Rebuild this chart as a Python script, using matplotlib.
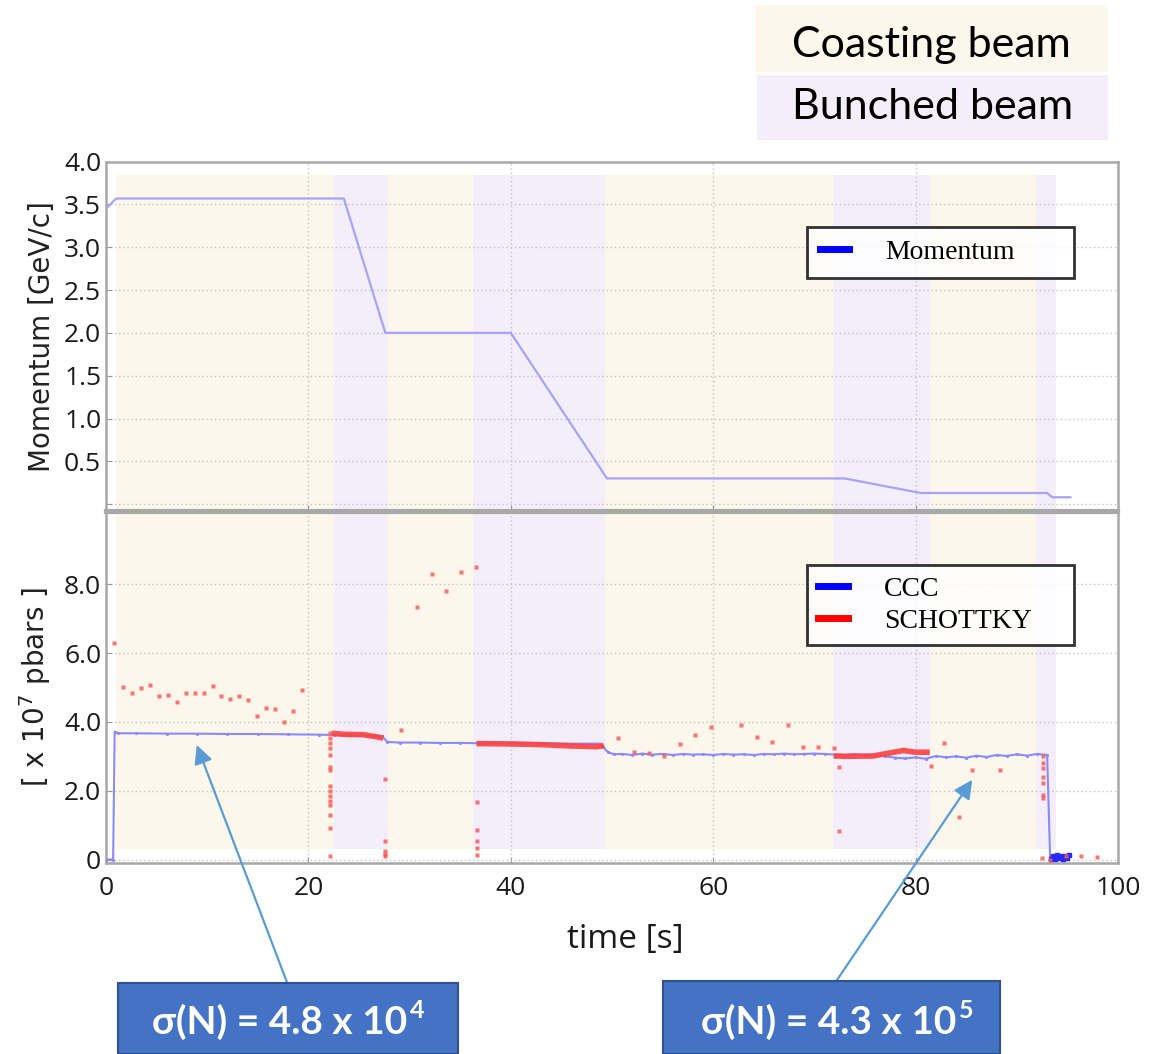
import matplotlib.pyplot as plt
from matplotlib.patches import Rectangle
from matplotlib.lines import Line2D
from matplotlib.text import Annotation

# beam phases (start, end in s)
phase_start = [1.0, 22.5, 27.9, 36.3, 49.3, 71.8, 81.4, 91.9]
phase_end = [22.5, 27.9, 36.3, 49.3, 71.8, 81.4, 91.9, 93.9]
phase_kind = ['coasting', 'bunched', 'coasting', 'bunched',
              'coasting', 'bunched', 'coasting', 'bunched']

# momentum ramp
mom_t = [0, 1.0, 23.5, 27.6, 40.0, 49.5, 73.0, 80.5, 93.0, 93.5, 95.3]
mom_p = [3.45, 3.57, 3.57, 2.0, 2.0, 0.3, 0.3, 0.13, 0.13, 0.08, 0.08]

# CCC intensity [x 1e7 pbars]
ccc_t = [0, 0.7, 0.85, 1.2, 3, 6, 9, 12, 15, 18, 21, 22.5, 24, 26, 27.3, 27.8,
         29, 31, 33, 35, 37, 40, 43, 46, 48.8, 49.6, 50.2,
         51, 52, 53, 54, 55, 56, 57, 58, 59, 60, 61, 62, 63, 64, 65, 66, 67,
         68, 69, 70, 71, 72, 73, 74, 75, 76, 77, 78, 79, 80, 81, 82, 83, 84,
         85, 86, 87, 88, 89, 90, 91, 92, 93, 93.3]
ccc_n = [0, 0, 3.72, 3.67, 3.67, 3.66, 3.66, 3.65, 3.65, 3.64, 3.63, 3.62, 3.61, 3.60, 3.58, 3.42,
         3.40, 3.40, 3.39, 3.39, 3.38, 3.38, 3.38, 3.37, 3.37, 3.12, 3.06,
         3.07, 3.04, 3.08, 3.05, 3.07, 3.04, 3.07, 3.05, 3.06, 3.04, 3.07, 3.05, 3.06, 3.04, 3.07, 3.06, 3.08,
         3.06, 3.07, 3.08, 3.07, 3.05, 3.04, 3.06, 3.03, 3.05, 3.00, 2.96, 2.94, 2.97, 2.93, 3.01, 2.97, 3.00,
         2.96, 3.02, 2.98, 3.04, 3.01, 3.06, 3.02, 3.07, 3.04, 0.0]
ccc_tail_t = [93.4, 93.6, 93.8, 94.0, 94.2, 94.4, 94.6, 94.8, 95.0, 95.2]
ccc_tail_n = [0.02, 0.10, 0.03, 0.12, 0.05, 0.09, 0.02, 0.11, 0.06, 0.13]

# Schottky: single estimates
sch_t = [0.82, 1.71, 2.6, 3.43, 4.38, 5.27, 6.09, 6.98, 7.87, 8.76, 9.65, 10.54, 11.4, 12.25,
         13.14, 14.03, 14.89, 15.78, 16.7, 17.56, 18.45, 19.34,
         22.1, 22.1, 22.1, 22.1, 22.1, 22.1, 22.1, 22.1, 22.1, 22.1, 22.1, 22.1, 22.1, 22.1, 22.1,
         27.57, 29.18, 27.6, 27.6, 27.6, 27.6, 30.7, 32.18, 33.6, 35.08, 36.53,
         36.7, 36.7, 36.7, 36.7, 36.7,
         50.56, 52.17, 53.62, 55.1, 56.7, 58.23, 59.75, 62.75, 64.33, 65.84, 67.36, 68.84, 70.38,
         71.94, 72.46, 72.43, 81.49, 82.8, 85.6, 84.3, 88.34,
         92.6, 92.6, 92.6, 92.6, 92.6, 92.6, 92.6, 92.45, 93.3, 94.9, 96.3, 97.9]
sch_n = [6.3, 5.02, 4.85, 4.98, 5.07, 4.75, 4.78, 4.59, 4.83, 4.83, 4.85, 5.04, 4.75, 4.66,
         4.74, 4.64, 4.17, 4.40, 4.37, 4.00, 4.33, 4.93,
         3.67, 3.53, 3.38, 3.24, 3.04, 2.70, 2.61, 2.13, 1.98, 1.84, 1.69, 1.59, 1.30, 0.92, 0.10,
         2.34, 3.77, 0.53, 0.24, 0.17, 0.10, 7.34, 8.31, 7.81, 8.36, 8.50,
         1.67, 0.87, 0.53, 0.34, 0.14,
         3.54, 3.12, 3.09, 3.00, 3.35, 3.62, 3.86, 3.91, 3.57, 3.41, 3.91, 3.28, 3.28,
         3.24, 2.68, 0.82, 2.73, 3.38, 2.61, 1.24, 2.59,
         3.00, 2.80, 2.66, 2.41, 2.22, 1.88, 1.79, 0.05, 0.0, 0.10, 0.10, 0.08]

# Schottky: dense tracks during bunched phases
band1_t = [22.3, 23.5, 25.4, 26.5, 27.4]
band1_n = [3.67, 3.64, 3.63, 3.58, 3.53]
band2_t = [36.6, 40.0, 43.0, 46.0, 48.5, 49.0, 49.2]
band2_n = [3.37, 3.36, 3.34, 3.30, 3.28, 3.30, 3.33]
band3_t = [71.9, 73.0, 75.8, 77.1, 78.8, 80.0, 81.4]
band3_n = [3.01, 3.00, 3.01, 3.08, 3.17, 3.12, 3.12]

# intensity resolution quoted in the call-outs
sigma_mant = ['4.8', '4.3']
sigma_exp = ['4', '5']

shade = {'coasting': '#fdf6ea', 'bunched': '#f3eefa'}
tick_font = ['Open Sans', 'DejaVu Sans']
box_font = ['Lato', 'DejaVu Sans']

fig = plt.figure(figsize=(11.49, 10.54), dpi=100)
ax1 = fig.add_axes([0.0923, 0.5152, 0.8807, 0.3314])
ax2 = fig.add_axes([0.0923, 0.1812, 0.8807, 0.3330])

for ax in (ax1, ax2):
    ax.set_xlim(0, 100)
    ax.set_xticks([0, 20, 40, 60, 80, 100])
    ax.grid(True, color='#c4c4c4', linestyle=(0, (1, 2)), linewidth=1)
    ax.set_axisbelow(True)
    for sp in ax.spines.values():
        sp.set_color('#a8a8a8')
        sp.set_linewidth(1.8)
    ax.tick_params(direction='in', length=4, color='#999999',
                   labelsize=19, labelcolor='#1a1a1a')

ax1.spines['bottom'].set_linewidth(3)
ax2.spines['top'].set_linewidth(3)

# phase shading
for s, e, k in zip(phase_start, phase_end, phase_kind):
    ax1.fill_between([s, e], -0.08, 3.85, color=shade[k], lw=0, zorder=0.5)
    ax2.fill_between([s, e], 0.3, 10.1, color=shade[k], lw=0, zorder=0.5)

# top panel: momentum
ax1.plot(mom_t, mom_p, color='#a4a4ff', lw=1.6, zorder=3)
ax1.set_ylim(-0.08, 4.0)
ax1.set_yticks([0, 0.5, 1.0, 1.5, 2.0, 2.5, 3.0, 3.5, 4.0])
ax1.set_yticklabels(['', '0.5', '1.0', '1.5', '2.0', '2.5', '3.0', '3.5', '4.0'])
ax1.tick_params(axis='x', labelbottom=False)
ax1.set_ylabel('Momentum [GeV/c]', fontsize=20, color='#222222', labelpad=6)

leg1 = ax1.legend(handles=[Line2D([], [], color='#0000ff', lw=5)], labels=['Momentum'],
                  loc='center', bbox_to_anchor=(0.693, 0.653, 0.264, 0.175), mode='expand',
                  prop={'family': 'Liberation Serif', 'size': 20}, frameon=True, fancybox=False,
                  handlelength=1.05, handletextpad=1.3, borderpad=0.45, borderaxespad=0)
leg1.get_frame().set_edgecolor('black')
leg1.get_frame().set_linewidth(2)

# bottom panel: intensity
ax2.plot(ccc_t, ccc_n, color='#8a8aff', lw=1.5, marker='.', ms=2.5, zorder=3)
ax2.plot(ccc_tail_t, ccc_tail_n, color='#2828ff', lw=2.5, marker='s', ms=3, zorder=3)
for bt, bn in ((band1_t, band1_n), (band2_t, band2_n), (band3_t, band3_n)):
    ax2.plot(bt, bn, color='#ff4040', lw=4, alpha=0.9, solid_capstyle='butt', zorder=4)
ax2.plot(sch_t, sch_n, ls='none', marker='s', ms=3.5, color='#ff5a5a', alpha=0.85,
         mec='none', zorder=4)

ax2.set_ylim(-0.1, 10.1)
ax2.set_yticks([0, 2, 4, 6, 8])
ax2.set_yticklabels(['0', '2.0', '4.0', '6.0', '8.0'])
ax2.set_xticklabels(['0', '20', '40', '60', '80', '100'])
ax2.tick_params(axis='x', pad=9)
ax2.set_ylabel('[ x 10$^7$ pbars ]', fontsize=20, color='#222222', labelpad=8)
ax2.set_xlabel('time [s]', fontsize=24, color='#1a1a1a', family=tick_font)
ax2.xaxis.label.set_verticalalignment('center')
ax2.xaxis.set_label_coords(0.513, -0.2165)

for ax in (ax1, ax2):
    for lab in ax.get_xticklabels() + ax.get_yticklabels():
        lab.set_family(tick_font)

leg2 = ax2.legend(handles=[Line2D([], [], color='#0000ff', lw=5),
                           Line2D([], [], color='#ff0000', lw=5)],
                  labels=['CCC', 'SCHOTTKY'],
                  loc='center', bbox_to_anchor=(0.693, 0.607, 0.264, 0.256), mode='expand',
                  prop={'family': 'Liberation Serif', 'size': 20}, frameon=True, fancybox=False,
                  handlelength=1.05, handletextpad=1.3, borderpad=0.4, labelspacing=0.25,
                  borderaxespad=0)
leg2.get_frame().set_edgecolor('black')
leg2.get_frame().set_linewidth(2)

# phase key in the top right corner
W, H = 1149, 1054
fig.add_artist(Rectangle((755 / W, 1 - 72 / H), 353 / W, 67 / H,
                         transform=fig.transFigure, color=shade['coasting'], lw=0))
fig.add_artist(Rectangle((757 / W, 1 - 140 / H), 351 / W, 65 / H,
                         transform=fig.transFigure, color=shade['bunched'], lw=0))
fig.text(931 / W, 1 - 45 / H, 'Coasting beam', ha='center', va='center',
         fontsize=31, family=box_font, color='black')
fig.text(933 / W, 1 - 107 / H, 'Bunched beam', ha='center', va='center',
         fontsize=31, family=box_font, color='black')

# resolution call-outs: box, text with raised exponent, arrow
box_geom = [(118, 985, 340), (663, 983, 337)]
arrow_tip = [(8.96, 3.33), (85.6, 2.32)]
arrow_tail = [(288, 985), (835, 983)]
text_cx = [280, 829]
for (x0, y0, w), tip, tail, cx, m, ex in zip(box_geom, arrow_tip, arrow_tail,
                                             text_cx, sigma_mant, sigma_exp):
    fig.add_artist(Rectangle((x0 / W, 0), w / W, (H - y0) / H + 0.002,
                             transform=fig.transFigure, facecolor='#4472c4',
                             edgecolor='#2f528f', lw=1.5))
    main = fig.text(cx / W, 1 - 1022 / H, '\u03c3(N) = %s x 10' % m, ha='center', va='center',
                    fontsize=28, fontweight='bold', color='white', family=box_font)
    fig.add_artist(Annotation(ex, xy=(1.0, 0.5), xycoords=main, xytext=(1.5, 0),
                              textcoords='offset points', fontsize=18, fontweight='bold',
                              color='white', family=box_font, ha='left', va='bottom',
                              zorder=5))
    ax2.annotate('', xy=tip, xycoords='data', xytext=(tail[0], H - tail[1]),
                 textcoords='figure pixels', annotation_clip=False,
                 arrowprops=dict(arrowstyle='-|>', color='#5b9bd5', lw=1.6,
                                 mutation_scale=28, shrinkA=0, shrinkB=0))

fig.savefig('out.png', dpi=100)
